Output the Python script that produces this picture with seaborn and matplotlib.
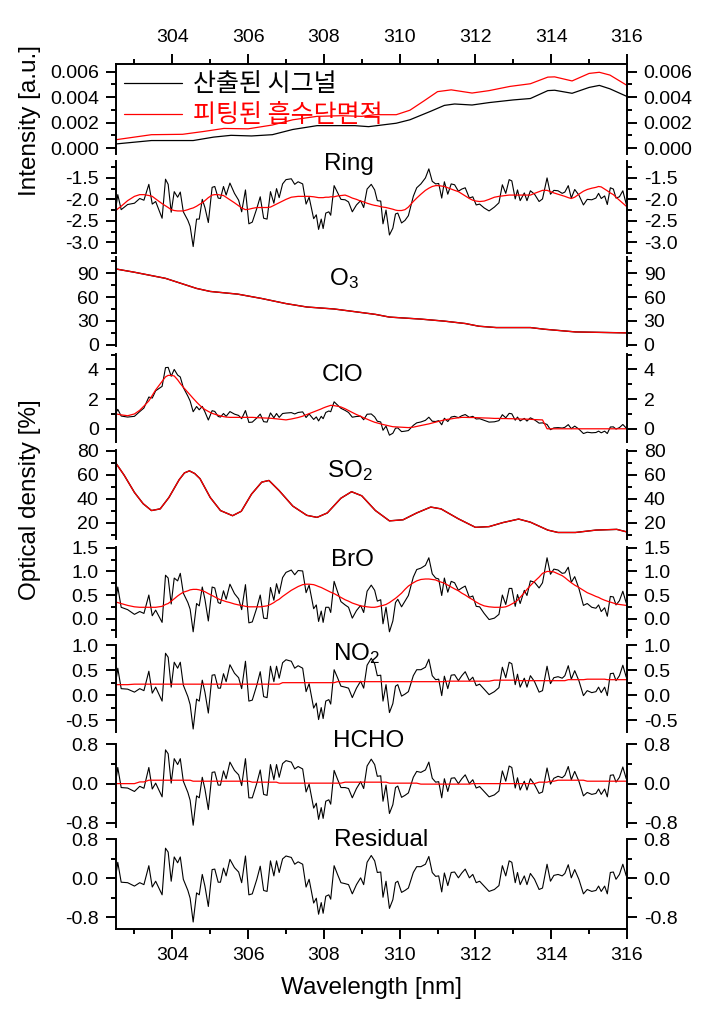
import numpy as np
import matplotlib
matplotlib.use("Agg")
import matplotlib.pyplot as plt
import seaborn as sns
from matplotlib.ticker import MultipleLocator, FormatStrFormatter

sns.set_theme(style="ticks", rc={'text.color': 'black', 'axes.labelcolor': 'black',
                                 'xtick.color': 'black', 'ytick.color': 'black'})
plt.rcParams['font.family'] = ['Liberation Sans', 'Noto Sans CJK KR']
plt.rcParams['mathtext.default'] = 'regular'

# ========== DATOS ==========
# intensidad (panel superior)
wl_int_black = [302.50, 303.45, 304.55, 305.09, 305.55, 306.09, 306.64, 307.18, 307.82, 308.82,
                309.18, 309.91, 310.27, 310.82, 311.18, 311.45, 311.91, 312.36, 313.00, 313.45,
                313.91, 314.09, 314.55, 315.00, 315.27, 315.55, 316.00]
int_black = [0.00032, 0.00059, 0.00059, 0.00086, 0.00100, 0.00095, 0.00105, 0.00146, 0.00176, 0.00176,
             0.00168, 0.00195, 0.00222, 0.00289, 0.00335, 0.00346, 0.00338, 0.00357, 0.00378, 0.00389,
             0.00451, 0.00454, 0.00430, 0.00476, 0.00492, 0.00465, 0.00405]
wl_int_red = [302.50, 303.45, 304.27, 304.82, 305.36, 306.00, 306.64, 307.18, 307.82, 308.45,
              309.00, 309.36, 309.91, 310.27, 310.64, 311.00, 311.36, 311.91, 312.36, 312.91,
              313.45, 313.91, 314.09, 314.55, 315.00, 315.27, 315.55, 316.00]
int_red = [0.00065, 0.00105, 0.00108, 0.00130, 0.00154, 0.00151, 0.00181, 0.00222, 0.00249, 0.00254,
           0.00249, 0.00262, 0.00262, 0.00297, 0.00370, 0.00443, 0.00457, 0.00432, 0.00451, 0.00484,
           0.00505, 0.00557, 0.00559, 0.00527, 0.00586, 0.00595, 0.00573, 0.00492]

# malla comun del residuo
wl = [302.50, 302.56, 302.65, 302.82, 303.00, 303.14, 303.25, 303.38, 303.47, 303.56,
      303.73, 303.82, 303.89, 303.97, 304.05, 304.14, 304.21, 304.29, 304.41, 304.47,
      304.55, 304.64, 304.71, 304.79, 304.86, 304.95, 305.05, 305.12, 305.21, 305.27,
      305.35, 305.42, 305.52, 305.64, 305.75, 305.83, 305.93, 306.02, 306.11, 306.23,
      306.32, 306.41, 306.50, 306.59, 306.68, 306.75, 306.82, 306.91, 307.00, 307.14,
      307.23, 307.32, 307.44, 307.53, 307.61, 307.73, 307.80, 307.86, 307.93, 307.98,
      308.05, 308.13, 308.18, 308.27, 308.36, 308.45, 308.56, 308.65, 308.75, 308.86,
      308.97, 309.05, 309.14, 309.25, 309.34, 309.41, 309.50, 309.56, 309.64, 309.73,
      309.82, 309.89, 309.95, 310.05, 310.14, 310.23, 310.36, 310.45, 310.56, 310.68,
      310.77, 310.86, 310.95, 311.03, 311.11, 311.18, 311.27, 311.36, 311.45, 311.55,
      311.64, 311.73, 311.84, 311.93, 312.02, 312.11, 312.23, 312.36, 312.50, 312.62,
      312.71, 312.80, 312.89, 312.96, 313.05, 313.11, 313.18, 313.29, 313.36, 313.45,
      313.56, 313.68, 313.77, 313.89, 313.98, 314.07, 314.18, 314.29, 314.36, 314.45,
      314.53, 314.62, 314.73, 314.85, 314.95, 315.07, 315.18, 315.25, 315.32, 315.41,
      315.48, 315.56, 315.64, 315.71, 315.80, 315.89, 315.98]

residual = [0.01, 0.33, -0.08, -0.09, -0.16, -0.09, -0.13, 0.26, -0.18, -0.06,
            -0.34, 0.62, 0.54, -0.06, 0.44, 0.32, 0.44, -0.02, -0.25, -0.41,
            -0.90, -0.30, -0.34, 0.08, -0.16, -0.58, 0.18, 0.19, -0.08, -0.08,
            0.21, 0.05, 0.39, 0.22, 0.13, -0.09, 0.46, -0.34, -0.32, -0.02,
            0.25, -0.25, -0.27, 0.36, 0.05, 0.36, 0.12, 0.40, 0.46, 0.43,
            0.29, 0.34, 0.29, -0.18, -0.02, -0.51, -0.41, -0.74, -0.50, -0.72,
            -0.37, -0.34, -0.43, 0.26, 0.08, -0.09, -0.11, -0.13, -0.32, -0.13,
            0.01, -0.13, 0.33, 0.47, 0.36, 0.12, 0.13, -0.39, -0.06, -0.62,
            -0.44, -0.09, -0.06, -0.29, -0.25, -0.20, 0.12, 0.24, 0.24, 0.29,
            0.45, 0.12, 0.04, 0.05, -0.28, 0.11, -0.15, 0.12, 0.13, 0.01,
            0.11, 0.19, 0.01, 0.08, -0.09, -0.06, -0.16, -0.27, -0.23, -0.15,
            0.26, 0.05, 0.36, 0.33, -0.09, 0.12, -0.13, 0.05, -0.13, 0.10,
            -0.02, -0.23, -0.20, 0.29, -0.06, 0.06, 0.08, 0.05, 0.10, 0.28,
            0.01, 0.18, -0.02, -0.32, -0.23, -0.27, -0.25, -0.16, -0.27, -0.16,
            -0.32, 0.12, 0.13, -0.02, 0.08, 0.29, 0.05]

ring_fit = [-2.27, -2.22, -2.16, -2.03, -1.93, -1.89, -1.89, -1.91, -1.93, -1.99,
            -2.10, -2.15, -2.19, -2.24, -2.26, -2.27, -2.27, -2.27, -2.24, -2.22,
            -2.20, -2.16, -2.12, -2.08, -2.03, -1.96, -1.90, -1.89, -1.89, -1.90,
            -1.91, -1.95, -2.01, -2.08, -2.15, -2.20, -2.24, -2.23, -2.21, -2.19,
            -2.19, -2.19, -2.19, -2.18, -2.14, -2.11, -2.08, -2.04, -2.00, -1.95,
            -1.94, -1.93, -1.93, -1.93, -1.93, -1.94, -1.95, -1.96, -1.96, -1.96,
            -1.95, -1.95, -1.94, -1.94, -1.92, -1.91, -1.90, -1.93, -1.97, -2.00,
            -2.04, -2.06, -2.09, -2.12, -2.14, -2.15, -2.17, -2.18, -2.19, -2.21,
            -2.23, -2.25, -2.26, -2.26, -2.24, -2.18, -2.05, -1.97, -1.88, -1.79,
            -1.74, -1.70, -1.68, -1.68, -1.69, -1.70, -1.73, -1.76, -1.79, -1.82,
            -1.87, -1.92, -1.98, -2.02, -2.04, -2.05, -2.04, -2.00, -1.95, -1.93,
            -1.92, -1.91, -1.90, -1.90, -1.90, -1.90, -1.90, -1.90, -1.90, -1.90,
            -1.86, -1.82, -1.79, -1.79, -1.82, -1.85, -1.88, -1.91, -1.93, -1.96,
            -1.98, -1.95, -1.88, -1.81, -1.77, -1.74, -1.72, -1.70, -1.71, -1.76,
            -1.80, -1.85, -1.89, -1.95, -2.02, -2.09, -2.16]

clo_fit = [1.00, 0.98, 0.94, 0.88, 1.00, 1.25, 1.53, 1.88, 2.25, 2.62,
           3.20, 3.50, 3.60, 3.60, 3.56, 3.30, 3.05, 2.80, 2.45, 2.28,
           2.05, 1.80, 1.62, 1.43, 1.30, 1.17, 1.04, 0.98, 0.91, 0.87,
           0.82, 0.79, 0.77, 0.77, 0.77, 0.77, 0.77, 0.77, 0.77, 0.75,
           0.74, 0.73, 0.72, 0.71, 0.69, 0.67, 0.65, 0.63, 0.60, 0.66,
           0.71, 0.76, 0.85, 0.94, 1.02, 1.14, 1.21, 1.27, 1.34, 1.40,
           1.47, 1.54, 1.58, 1.56, 1.52, 1.47, 1.35, 1.23, 1.10, 0.96,
           0.84, 0.74, 0.65, 0.53, 0.44, 0.39, 0.33, 0.29, 0.24, 0.19,
           0.14, 0.13, 0.12, 0.10, 0.09, 0.08, 0.11, 0.16, 0.22, 0.28,
           0.33, 0.39, 0.45, 0.50, 0.55, 0.60, 0.64, 0.67, 0.71, 0.74,
           0.77, 0.77, 0.76, 0.76, 0.75, 0.74, 0.73, 0.72, 0.70, 0.70,
           0.69, 0.69, 0.68, 0.68, 0.67, 0.67, 0.66, 0.65, 0.65, 0.64,
           0.62, 0.61, 0.60] + [0.0] * 24

bro_fit = [0.35, 0.34, 0.32, 0.28, 0.25, 0.24, 0.24, 0.24, 0.24, 0.24,
           0.26, 0.30, 0.32, 0.37, 0.42, 0.48, 0.52, 0.56, 0.59, 0.61,
           0.62, 0.62, 0.61, 0.59, 0.57, 0.53, 0.49, 0.46, 0.42, 0.40,
           0.38, 0.36, 0.34, 0.31, 0.29, 0.28, 0.26, 0.25, 0.25, 0.25,
           0.25, 0.26, 0.27, 0.30, 0.34, 0.38, 0.41, 0.47, 0.52, 0.60,
           0.64, 0.68, 0.72, 0.73, 0.73, 0.72, 0.70, 0.68, 0.66, 0.64,
           0.61, 0.58, 0.56, 0.53, 0.49, 0.45, 0.40, 0.37, 0.33, 0.30,
           0.27, 0.26, 0.25, 0.24, 0.24, 0.25, 0.27, 0.28, 0.30, 0.34,
           0.39, 0.43, 0.47, 0.54, 0.62, 0.69, 0.76, 0.80, 0.83, 0.84,
           0.84, 0.83, 0.82, 0.79, 0.77, 0.75, 0.71, 0.67, 0.63, 0.59,
           0.54, 0.50, 0.44, 0.40, 0.35, 0.31, 0.27, 0.25, 0.24, 0.24,
           0.24, 0.25, 0.28, 0.31, 0.35, 0.39, 0.45, 0.55, 0.62, 0.70,
           0.79, 0.88, 0.96, 1.00, 1.00, 0.99, 0.95, 0.91, 0.87, 0.81,
           0.76, 0.71, 0.66, 0.60, 0.55, 0.51, 0.47, 0.45, 0.42, 0.39,
           0.37, 0.35, 0.33, 0.31, 0.30, 0.29, 0.28]

no2_fit = ([0.21] * 4 + [0.22] * 43 + [0.25] * 17 + [0.27] * 32 + [0.28] * 12
           + [0.30] * 8 + [0.29] * 13 + [0.31] * 5 + [0.32] * 6 + [0.31] * 7)

hcho_fit = ([0.0] * 5 + [0.035] * 2 + [0.07] * 13 + [0.05] * 18 + [0.03] * 8
            + [0.01] * 20 + [0.03] * 13 + [0.01] * 9 + [-0.01] * 15 + [0.0] * 18
            + [0.03] * 3 + [0.05] * 2 + [0.07] * 8 + [0.05] * 13)

# O3 y SO2 (la senal coincide con el ajuste a esta escala)
wl_o3 = [302.50, 303.00, 303.82, 304.64, 305.00, 305.73, 306.36, 307.00, 307.55, 308.27,
         308.82, 309.36, 309.73, 310.55, 311.18, 311.73, 312.09, 312.55, 313.45, 313.82,
         314.64, 315.98]
o3_fit = [95.5, 91.3, 83.6, 70.9, 67.1, 63.7, 58.2, 51.8, 47.5, 45.0,
          41.6, 38.2, 34.8, 32.3, 29.7, 26.7, 23.3, 21.6, 21.6, 19.5,
          16.1, 14.9]

wl_so2 = [302.50, 302.73, 303.00, 303.23, 303.45, 303.68, 303.91, 304.18, 304.32, 304.45,
          304.59, 304.73, 305.00, 305.27, 305.59, 305.82, 306.09, 306.36, 306.55, 306.82,
          307.18, 307.55, 307.82, 308.09, 308.45, 308.73, 309.00, 309.36, 309.73, 310.09,
          310.45, 310.82, 311.09, 311.55, 312.00, 312.36, 312.73, 313.14, 313.45, 313.91,
          314.18, 314.64, 315.18, 315.73, 315.98]
so2_fit = [70.0, 59.4, 45.1, 35.7, 30.0, 31.4, 40.9, 55.7, 61.4, 63.1,
           60.9, 56.6, 40.9, 30.0, 25.7, 29.4, 43.7, 53.7, 55.1, 46.6,
           33.7, 26.0, 24.3, 28.0, 40.3, 45.7, 42.3, 30.0, 21.4, 22.3,
           28.0, 32.9, 31.4, 23.1, 16.0, 16.6, 20.0, 22.9, 20.3, 13.7,
           11.7, 11.7, 13.7, 14.3, 12.3]

# ========== FIGURA ==========
W, H = 714, 1009
X_IZQ, X_DER = 115.5, 627.0
NEGRO, ROJO = '#000000', '#ff0000'
F_TICK, F_TITULO = 14, 17.5


def caja(top, bottom):
    return [X_IZQ / W, 1 - bottom / H, (X_DER - X_IZQ) / W, (bottom - top) / H]


wl_arr = np.array(wl)
res_arr = np.array(residual)

# nombre, limites en px, ylim, paso mayor, paso menor, formato, titulo, x titulo, y titulo (frac)
paneles = [
    ('int', 64, 154.3, (-0.00049, 0.0066), 0.002, 0.001, '%.3f', None, 0, 0),
    ('ring', 161, 253, (-3.25, -1.106), 0.5, 0.25, '%.1f', 'Ring', 308.00, 0.899),
    ('o3', 257, 345.5, (-1.0, 110.5), 30, 15, '%d', r'$O_3$', 308.14, 0.686),
    ('clo', 354, 442, (-0.89, 5.04), 2, 1, '%d', 'ClO', 307.95, 0.690),
    ('so2', 450, 538.6, (6.6, 80.5), 20, 10, '%d', r'$SO_2$', 308.08, 0.699),
    ('bro', 547.4, 637, (-0.39, 1.51), 0.5, 0.25, '%.1f', 'BrO', 308.20, 0.797),
    ('no2', 644.8, 732, (-0.74, 1.01), 0.5, 0.25, '%.1f', r'$NO_2$', 308.23, 0.819),
    ('hcho', 744, 826.7, (-0.88, 0.81), 0.8, 0.4, '%.1f', 'HCHO', 308.23, 0.958),
    ('res', 839, 928.8, (-1.04, 0.81), 0.8, 0.4, '%.1f', 'Residual', 308.27, 0.920),
]

ajustes = {'ring': ring_fit, 'clo': clo_fit, 'bro': bro_fit, 'no2': no2_fit, 'hcho': hcho_fit}

fig = plt.figure(figsize=(W / 100, H / 100), dpi=100)
ejes = []
for i, (clave, top, bottom, ylim, mayor, menor, fmt, titulo, tx, ty) in enumerate(paneles):
    ax = fig.add_axes(caja(top, bottom))
    ejes.append(ax)

    if clave == 'int':
        sns.lineplot(x=wl_int_black, y=int_black, ax=ax, color=NEGRO, lw=0.9,
                     estimator=None, sort=False, label='산출된 시그널')
        sns.lineplot(x=wl_int_red, y=int_red, ax=ax, color=ROJO, lw=0.9,
                     estimator=None, sort=False, label='피팅된 흡수단면적')
        ax.legend(loc='upper left', frameon=False, labelcolor='linecolor',
                  prop={'family': ['Noto Sans CJK KR'], 'size': 18},
                  handlelength=2.3, handletextpad=0.45, labelspacing=0.2,
                  borderaxespad=0.0, bbox_to_anchor=(-0.002, 1.03))
    elif clave == 'o3':
        sns.lineplot(x=wl_o3, y=o3_fit, ax=ax, color=NEGRO, lw=1.0, estimator=None, sort=False)
        sns.lineplot(x=wl_o3, y=o3_fit, ax=ax, color=ROJO, lw=0.9, estimator=None, sort=False)
    elif clave == 'so2':
        sns.lineplot(x=wl_so2, y=so2_fit, ax=ax, color=NEGRO, lw=1.0, estimator=None, sort=False)
        sns.lineplot(x=wl_so2, y=so2_fit, ax=ax, color=ROJO, lw=0.9, estimator=None, sort=False)
    elif clave == 'res':
        sns.lineplot(x=wl_arr, y=res_arr, ax=ax, color=NEGRO, lw=0.8, estimator=None, sort=False)
    else:
        ajuste = np.array(ajustes[clave])
        sns.lineplot(x=wl_arr, y=ajuste + res_arr, ax=ax, color=NEGRO, lw=0.8,
                     estimator=None, sort=False)
        sns.lineplot(x=wl_arr, y=ajuste, ax=ax, color=ROJO, lw=0.9,
                     estimator=None, sort=False)

    ax.set_xlim(302.5, 316.0)
    ax.set_ylim(*ylim)
    ax.set_xlabel('')
    ax.set_ylabel('')
    ax.xaxis.set_major_locator(MultipleLocator(2))
    ax.xaxis.set_minor_locator(MultipleLocator(1))
    ax.yaxis.set_major_locator(MultipleLocator(mayor))
    ax.yaxis.set_minor_locator(MultipleLocator(menor))
    ax.yaxis.set_major_formatter(FormatStrFormatter(fmt))

    for lado in ['left', 'right', 'top', 'bottom']:
        ax.spines[lado].set_linewidth(1.4)
        ax.spines[lado].set_color('black')
    ax.spines['top'].set_visible(i == 0)
    ax.spines['bottom'].set_visible(i == len(paneles) - 1)

    ax.tick_params(axis='y', which='both', direction='out', left=True, right=True,
                   labelleft=True, labelright=True, colors='black', labelsize=F_TICK, pad=5)
    ax.tick_params(axis='y', which='major', length=7, width=1.4)
    ax.tick_params(axis='y', which='minor', length=3.5, width=1.4)
    ax.tick_params(axis='x', which='both', direction='out', colors='black', labelsize=F_TICK,
                   top=(i == 0), labeltop=(i == 0),
                   bottom=(i == len(paneles) - 1), labelbottom=(i == len(paneles) - 1))
    ax.tick_params(axis='x', which='major', length=7, width=1.4, pad=6)
    ax.tick_params(axis='x', which='minor', length=3.5, width=1.4)
    ax.grid(False)
    ax.set_facecolor('white')

    if titulo:
        ax.text(tx, ty, titulo, transform=ax.get_xaxis_transform(), ha='left', va='baseline',
                fontsize=F_TITULO, color='black', clip_on=False)

fig.text(30 / W, 1 - 121 / H, 'Intensity [a.u.]', rotation=90, ha='center', va='center',
         fontsize=F_TITULO, color='black')
fig.text(30 / W, 1 - 500 / H, 'Optical density [%]', rotation=90, ha='center', va='center',
         fontsize=F_TITULO, color='black')
fig.text(371 / W, 1 - 988 / H, 'Wavelength [nm]', ha='center', va='center',
         fontsize=F_TITULO, color='black')

fig.savefig('out.png', dpi=100, facecolor='white')
